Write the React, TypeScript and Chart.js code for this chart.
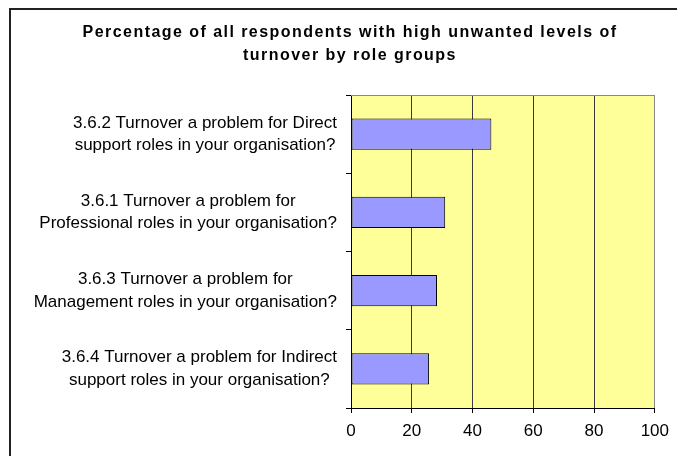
import React, { useEffect, useRef } from 'react';
import { Chart, registerables } from 'chart.js';

Chart.register(...registerables);

const TITLE_LINES = [
  'Percentage of all respondents with high unwanted levels of',
  'turnover by role groups',
];
const CATEGORIES: string[][] = [
  ['3.6.2 Turnover a problem for Direct', 'support roles in your organisation?'],
  ['3.6.1 Turnover a problem for', 'Professional roles in your organisation?'],
  ['3.6.3 Turnover a problem for', 'Management roles in your organisation?'],
  ['3.6.4 Turnover a problem for Indirect', 'support roles in your organisation?'],
];
const VALUES = [46.2, 31.0, 28.3, 25.7];
const X_TICKS = [0, 20, 40, 60, 80, 100];

const FONT = 'Arial, "Liberation Sans", sans-serif';

const decor = {
  id: 'decor',
  beforeDraw(chart: any) {
    const { ctx, chartArea: a } = chart;
    ctx.save();
    ctx.fillStyle = '#FFFF99';
    ctx.fillRect(a.left, a.top, a.right - a.left, a.bottom - a.top);
    ctx.restore();
  },
  beforeDatasetsDraw(chart: any) {
    const { ctx, chartArea: a } = chart;
    ctx.save();
    ctx.strokeStyle = '#888888';
    ctx.lineWidth = 1;
    ctx.beginPath();
    ctx.moveTo(a.left, Math.round(a.top) + 0.5);
    ctx.lineTo(a.right, Math.round(a.top) + 0.5);
    ctx.stroke();
    ctx.restore();
  },
  afterDraw(chart: any) {
    const { ctx } = chart;
    ctx.save();
    // title
    ctx.font = 'bold 16px ' + FONT;
    (ctx as any).letterSpacing = '1.45px';
    ctx.textAlign = 'center';
    ctx.textBaseline = 'alphabetic';
    ctx.fillStyle = '#000';
    const titleX = 350;
    ctx.fillText(TITLE_LINES[0], titleX, 37);
    ctx.fillText(TITLE_LINES[1], titleX, 60);
    // category labels: block right-aligned, lines centered within block
    (ctx as any).letterSpacing = '0px';
    ctx.font = '17px ' + FONT;
    ctx.textBaseline = 'middle';
    const ys = chart.scales.y;
    const rightEdge = ys.right - 14;
    const lh = 22.5;
    CATEGORIES.forEach((lines, i) => {
      const cy = ys.getPixelForTick(i);
      const w = Math.max(...lines.map((l) => ctx.measureText(l).width));
      const cx = rightEdge - w / 2;
      lines.forEach((l, j) => {
        ctx.fillText(l, cx, cy + (j - (lines.length - 1) / 2) * lh);
      });
    });
    ctx.restore();
  },
};

export default function App() {
  const canvasRef = useRef<HTMLCanvasElement | null>(null);

  useEffect(() => {
    const canvas = canvasRef.current;
    if (!canvas) return;
    const chart = new Chart(canvas, {
      type: 'bar',
      data: {
        labels: CATEGORIES,
        datasets: [
          {
            data: VALUES,
            backgroundColor: '#9999FF',
            borderColor: '#000000',
            borderWidth: 1,
            borderSkipped: false,
            barPercentage: 0.4,
            categoryPercentage: 1,
          },
        ],
      },
      options: {
        indexAxis: 'y',
        responsive: false,
        animation: false,
        devicePixelRatio: 1,
        layout: { padding: { left: 12, right: 21, top: 95, bottom: 0 } },
        plugins: {
          legend: { display: false },
          title: { display: false },
          tooltip: { enabled: false },
        },
        scales: {
          x: {
            min: X_TICKS[0],
            max: X_TICKS[X_TICKS.length - 1],
            ticks: {
              stepSize: X_TICKS[1] - X_TICKS[0],
              font: { family: FONT, size: 17 },
              color: '#000',
              padding: 8,
            },
            grid: {
              color: (c: any) =>
                c.tick && c.tick.value === X_TICKS[X_TICKS.length - 1]
                  ? '#888888'
                  : '#3a3a3a',
              lineWidth: 1,
              drawTicks: true,
              tickLength: 5,
              tickColor: '#000',
            },
            border: { color: '#000', width: 1 },
            afterFit: (s: any) => {
              s.height = 48;
            },
          },
          y: {
            ticks: { display: false },
            grid: {
              offset: true,
              drawOnChartArea: false,
              drawTicks: true,
              tickLength: 5,
              tickColor: '#000',
            },
            border: { color: '#000', width: 1 },
            afterFit: (s: any) => {
              s.width = 339;
            },
          },
        },
      },
      plugins: [decor],
    } as any);
    return () => chart.destroy();
  }, []);

  return (
    <div
      style={{
        position: 'absolute',
        left: 0,
        top: 0,
        width: 677,
        height: 456,
        overflow: 'hidden',
        background: '#fff',
      }}
    >
      <div
        style={{
          position: 'absolute',
          left: 9,
          top: 8,
          width: 720,
          height: 520,
          border: '2px solid #222',
          boxSizing: 'border-box',
        }}
      />
      <canvas
        ref={canvasRef}
        width={677}
        height={456}
        style={{ position: 'absolute', left: 0, top: 0, width: 677, height: 456 }}
      />
    </div>
  );
}
